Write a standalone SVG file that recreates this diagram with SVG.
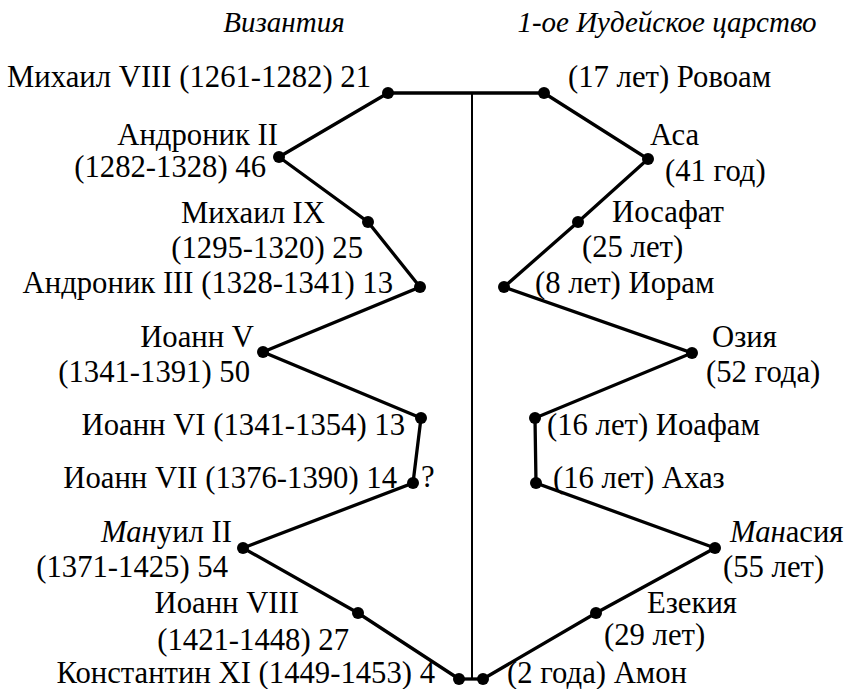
<svg xmlns="http://www.w3.org/2000/svg" width="846" height="689" viewBox="0 0 846 689">
<style>
.l{text-anchor:end}
.i{font-style:italic}
.ln{fill:none;stroke:#000;stroke-width:3.3;stroke-linejoin:miter}
.ax{fill:none;stroke:#000;stroke-width:2}
.d{fill:#000}
</style>
<rect width="846" height="689" fill="#fff"/>
<g id="headers" font-family="Liberation Serif" font-size="29">
<text class="i" x="284" y="32" text-anchor="middle">Византия</text>
<text class="i" x="667" y="32" text-anchor="middle">1-ое Иудейское царство</text>
</g>
<g id="connectors">
<path class="ax" d="M472,93 V679"/>
<path class="ln" d="M388,93 H544"/>
<path class="ln" d="M459,679 H483"/>
<polyline class="ln" points="388,93 279,157 368,222 420,287 263,352 421,418 413,483 243,548 358,613 459,679"/>
<polyline class="ln" points="544,93 648,159 578,222 504,287 692,353 535,418 536,483 715,548 596,613 483,679"/>
</g>
<g id="byzantium" font-family="Liberation Serif" font-size="30.7">
<g id="n-mikhail8"><circle class="d" cx="388" cy="93" r="6"/><text class="l" x="371" y="87">Михаил VIII (1261-1282) 21</text></g>
<g id="n-andronik2"><circle class="d" cx="279" cy="157" r="6"/><text class="l" x="278" y="145">Андроник II</text><text class="l" x="266" y="177">(1282-1328) 46</text></g>
<g id="n-mikhail9"><circle class="d" cx="368" cy="222" r="6"/><text class="l" x="325" y="223">Михаил IX</text><text class="l" x="363" y="258">(1295-1320) 25</text></g>
<g id="n-andronik3"><circle class="d" cx="420" cy="287" r="6"/><text class="l" x="393" y="293">Андроник III (1328-1341) 13</text></g>
<g id="n-ioann5"><circle class="d" cx="263" cy="352" r="6"/><text class="l" x="254" y="347">Иоанн V</text><text class="l" x="250" y="382">(1341-1391) 50</text></g>
<g id="n-ioann6"><circle class="d" cx="421" cy="418" r="6"/><text class="l" x="405" y="435">Иоанн VI (1341-1354) 13</text></g>
<g id="n-ioann7"><circle class="d" cx="413" cy="483" r="6"/><text class="l" x="397" y="488">Иоанн VII (1376-1390) 14</text><text x="421" y="487">?</text></g>
<g id="n-manuil2"><circle class="d" cx="243" cy="548" r="6"/><text class="l" x="232" y="542"><tspan class="i">Ман</tspan>уил II</text><text class="l" x="228" y="577">(1371-1425) 54</text></g>
<g id="n-ioann8"><circle class="d" cx="358" cy="613" r="6"/><text class="l" x="299" y="613">Иоанн VIII</text><text class="l" x="349" y="650">(1421-1448) 27</text></g>
<g id="n-konstantin11"><circle class="d" cx="459" cy="679" r="6"/><text class="l" x="435" y="683">Константин XI (1449-1453) 4</text></g>
</g>
<g id="judea" font-family="Liberation Serif" font-size="30.7">
<g id="n-rovoam"><circle class="d" cx="544" cy="93" r="6"/><text x="568" y="87">(17 лет) Ровоам</text></g>
<g id="n-asa"><circle class="d" cx="648" cy="159" r="6"/><text x="650" y="145">Аса</text><text x="665" y="181">(41 год)</text></g>
<g id="n-iosafat"><circle class="d" cx="578" cy="222" r="6"/><text x="612" y="222">Иосафат</text><text x="582" y="257">(25 лет)</text></g>
<g id="n-ioram"><circle class="d" cx="504" cy="287" r="6"/><text x="535" y="293">(8 лет) Иорам</text></g>
<g id="n-ozia"><circle class="d" cx="692" cy="353" r="6"/><text x="712" y="347">Озия</text><text x="706" y="382">(52 года)</text></g>
<g id="n-ioafam"><circle class="d" cx="535" cy="418" r="6"/><text x="547" y="435">(16 лет) Иоафам</text></g>
<g id="n-akhaz"><circle class="d" cx="536" cy="483" r="6"/><text x="553" y="488">(16 лет) Ахаз</text></g>
<g id="n-manasia"><circle class="d" cx="715" cy="548" r="6"/><text x="730" y="542"><tspan class="i">Ман</tspan>асия</text><text x="723" y="577">(55 лет)</text></g>
<g id="n-ezekia"><circle class="d" cx="596" cy="613" r="6"/><text x="647" y="613">Езекия</text><text x="604" y="645">(29 лет)</text></g>
<g id="n-amon"><circle class="d" cx="483" cy="679" r="6"/><text x="507" y="683">(2 года) Амон</text></g>
</g>
</svg>
